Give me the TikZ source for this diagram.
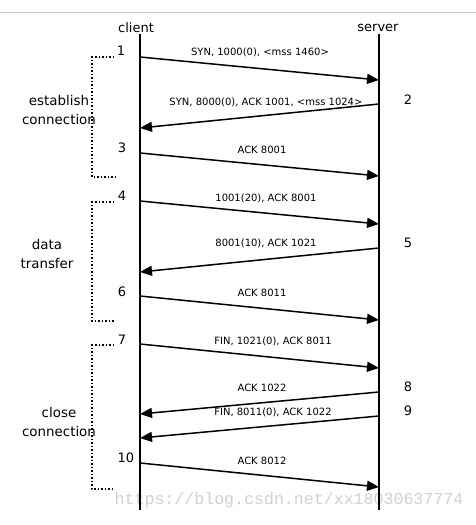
\documentclass[tikz,border=0pt]{standalone}
\usepackage{fontspec}
\setmainfont{DejaVu Sans}
\newfontfamily\wmfont{Liberation Mono}
\usetikzlibrary{arrows.meta}
\begin{document}
\begin{tikzpicture}[x=1pt,y=-1pt,
  lifeline/.style={line width=2pt,black},
  msg/.style={line width=1.5pt,-{Triangle[length=12pt,width=10pt]}},
  msglabel/.style={font=\fontsize{10}{11}\selectfont,inner sep=0pt,anchor=center},
  head/.style={font=\fontsize{13}{14}\selectfont,inner sep=0pt},
  num/.style={font=\fontsize{13}{14}\selectfont,inner sep=0pt},
  phase/.style={font=\fontsize{13.4}{19.5}\selectfont,inner sep=0pt,align=center},
  bracket/.style={line width=1.5pt,dotted,line cap=butt},
  wm/.style={font=\wmfont\fontsize{16.6}{18}\selectfont,text=black!18,inner sep=0pt}
]
\useasboundingbox (0,0) rectangle (476,525);
\fill[white] (0,0) rectangle (476,525);
% top rule
\coordinate (tl) at (0,12);
\coordinate (tr) at (476,12);
\draw[black!22,line width=0.8pt] (tl) -- (tr);
% watermark
\node[wm] (wmark) at (289,500) {https://blog.csdn.net/xx18030637774};
% lifelines
\node[head] (client) at (136,28) {client};
\node[head] (server) at (378,28) {server};
\coordinate (cbot) at (140,510);
\coordinate (sbot) at (379,510);
\coordinate (ctop) at (140,34);
\coordinate (stop) at (379,34);
\draw[lifeline] (ctop) -- (cbot);
\draw[lifeline] (stop) -- (sbot);
% message endpoints
\coordinate (c1) at (140,57);  \coordinate (s1) at (379,80);
\coordinate (s2) at (379,104); \coordinate (c2) at (140,128);
\coordinate (c3) at (140,153); \coordinate (s3) at (379,176);
\coordinate (c4) at (140,201); \coordinate (s4) at (379,224);
\coordinate (s5) at (379,248); \coordinate (c5) at (140,272);
\coordinate (c6) at (140,296); \coordinate (s6) at (379,320);
\coordinate (c7) at (140,344); \coordinate (s7) at (379,368);
\coordinate (s8) at (379,392); \coordinate (c8) at (140,414);
\coordinate (s9) at (379,416); \coordinate (c9) at (140,438);
\coordinate (c10) at (140,463); \coordinate (s10) at (379,487);
\draw[msg] (c1) -- (s1);
\draw[msg] (s2) -- (c2);
\draw[msg] (c3) -- (s3);
\draw[msg] (c4) -- (s4);
\draw[msg] (s5) -- (c5);
\draw[msg] (c6) -- (s6);
\draw[msg] (c7) -- (s7);
\draw[msg] (s8) -- (c8);
\draw[msg] (s9) -- (c9);
\draw[msg] (c10) -- (s10);
% message labels
\node[msglabel] (l1) at (260,52) {SYN, 1000(0), <mss 1460>};
\node[msglabel] (l2) at (266,102) {SYN, 8000(0), ACK 1001, <mss 1024>};
\node[msglabel] (l3) at (262,150) {ACK 8001};
\node[msglabel] (l4) at (266,198) {1001(20), ACK 8001};
\node[msglabel] (l5) at (266,243) {8001(10), ACK 1021};
\node[msglabel] (l6) at (262,293) {ACK 8011};
\node[msglabel] (l7) at (273,341) {FIN, 1021(0), ACK 8011};
\node[msglabel] (l8) at (262,388) {ACK 1022};
\node[msglabel] (l9) at (273,412) {FIN, 8011(0), ACK 1022};
\node[msglabel] (l10) at (262,461) {ACK 8012};
% step numbers
\node[num] (n1) at (121,51) {1};
\node[num] (n2) at (408,100) {2};
\node[num] (n3) at (122,148) {3};
\node[num] (n4) at (122,196) {4};
\node[num] (n5) at (408,243) {5};
\node[num] (n6) at (122,292) {6};
\node[num] (n7) at (122,340) {7};
\node[num] (n8) at (408,387) {8};
\node[num] (n9) at (408,411) {9};
\node[num] (n10) at (126,458) {10};
% phase brackets
\coordinate (b1t) at (114,57);  \coordinate (b1b) at (115,177);
\coordinate (b2t) at (114,202); \coordinate (b2b) at (115,321);
\coordinate (b3t) at (114,345); \coordinate (b3b) at (115,489);
\draw[bracket] (b1t) -| (92,177) -- (b1b);
\draw[bracket] (b2t) -| (92,321) -- (b2b);
\draw[bracket] (b3t) -| (92,489) -- (b3b);
% phase labels
\node[phase] (p1) at (59,110) {establish\\connection};
\node[phase] (p2) at (47,254) {data\\transfer};
\node[phase] (p3) at (59,422) {close\\connection};
\end{tikzpicture}
\end{document}
